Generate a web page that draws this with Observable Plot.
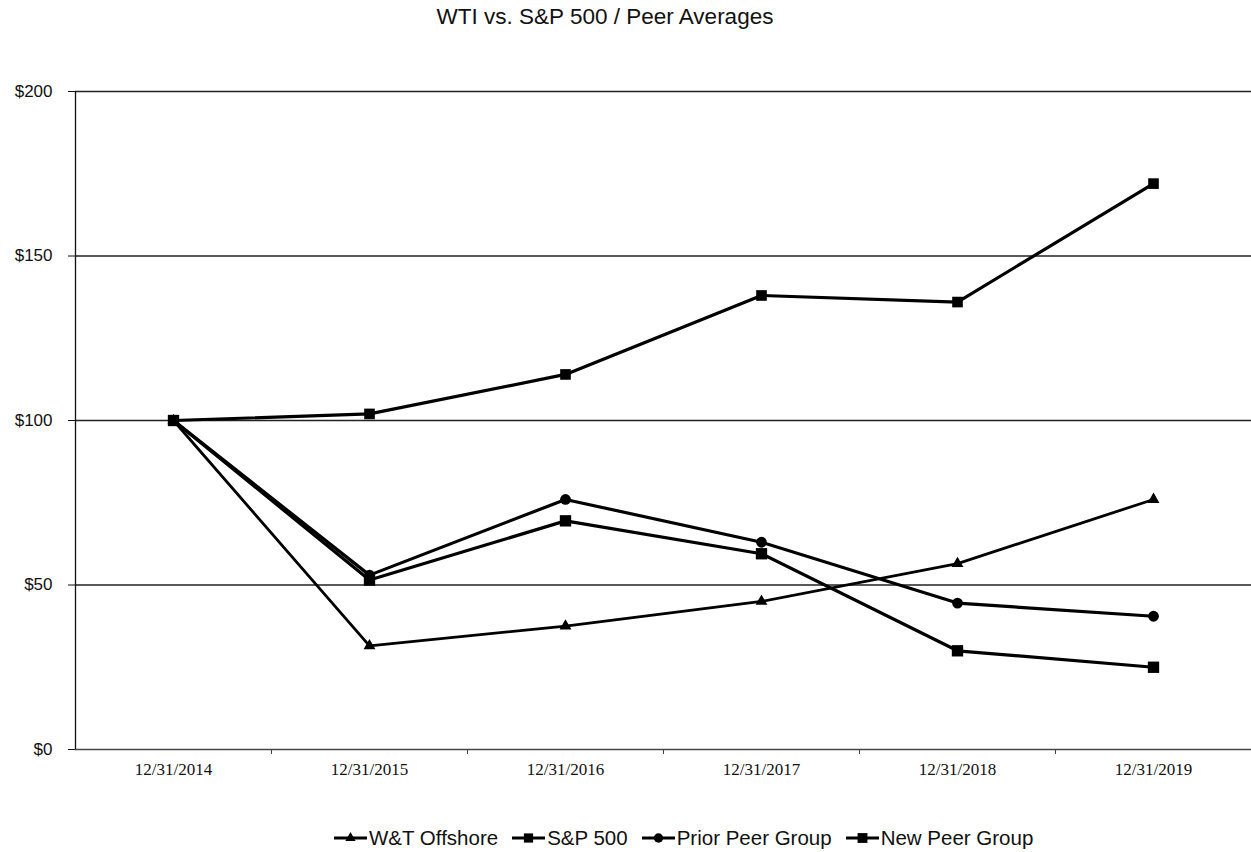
<!DOCTYPE html>
<html>
<head>
<meta charset="utf-8">
<script src="https://cdn.jsdelivr.net/npm/d3@7"></script>
<script src="https://cdn.jsdelivr.net/npm/@observablehq/plot@0.6"></script>
<style>
  html, body { margin: 0; padding: 0; background: #fff; }
  #wrap { position: relative; width: 1251px; height: 852px; overflow: hidden; }
  #title { position: absolute; top: 4px; left: 0; width: 1210px; text-align: center;
           font-family: "Liberation Sans", Arial, sans-serif; font-size: 22.5px; color: #111; }
  #chart { position: absolute; top: 40px; left: 0; }
  #legend { position: absolute; top: 826px; left: 334px; display: flex; align-items: center;
            font-family: "Liberation Sans", Arial, sans-serif; font-size: 20.5px; color: #111; white-space: nowrap; }
  .item { display: flex; align-items: center; margin-right: 14px; }
  .item svg { margin-right: 2px; }
</style>
</head>
<body>
<div id="wrap">
  <div id="title">WTI vs. S&amp;P 500 / Peer Averages</div>
  <div id="chart"></div>
  <div id="legend"></div>
</div>
<script>
const dates = ["12/31/2014", "12/31/2015", "12/31/2016", "12/31/2017", "12/31/2018", "12/31/2019"];
const seriesNames = ["W&T Offshore", "S&P 500", "Prior Peer Group", "New Peer Group"];
const wtOffshore = [100, 31.5, 37.5, 45, 56.5, 76];
const sp500 = [100, 102, 114, 138, 136, 172];
const priorPeer = [100, 53, 76, 63, 44.5, 40.5];
const newPeer = [100, 51.5, 69.5, 59.5, 30, 25];
const yTicks = [0, 50, 100, 150, 200];

const seriesValues = [wtOffshore, sp500, priorPeer, newPeer];
const styles = [
  {symbol: "triangle", r: 4.4, width: 2.8},
  {symbol: "square", r: 6, width: 3.2},
  {symbol: "circle", r: 5.4, width: 3.2},
  {symbol: "square", r: 6.4, width: 3.2}
];

const rowsFor = (k) => seriesValues[k].map((v, i) => ({series: seriesNames[k], pos: i + 0.5, value: v}));
const centers = dates.map((d, i) => i + 0.5);
const bounds = dates.slice(1).map((d, i) => i + 1);

const marks = [
  Plot.gridY(yTicks.slice(1), {stroke: "#222", strokeOpacity: 1, strokeWidth: 1.4}),
  Plot.ruleY([0], {stroke: "#444", strokeWidth: 1.6}),
  Plot.ruleX([0], {stroke: "#111", strokeWidth: 1.3}),
  Plot.axisY(yTicks, {tickFormat: d => "$" + d, tickSize: 7, tickPadding: 16,
    fontSize: 17, fontFamily: "Liberation Sans Narrow, Liberation Sans, Arial, sans-serif", label: null}),
  Plot.axisX(centers, {tickSize: 0, tickPadding: 13, tickFormat: d => dates[Math.floor(d)],
    fontSize: 17, fontFamily: "Liberation Serif, Times New Roman, serif", label: null}),
  Plot.axisX(bounds, {tickSize: 5, tickFormat: () => "", label: null, stroke: "#444"})
];
seriesValues.forEach((vals, k) => {
  const rows = rowsFor(k);
  marks.push(Plot.line(rows, {x: "pos", y: "value", stroke: "#000", strokeWidth: styles[k].width}));
  marks.push(Plot.dot(rows, {x: "pos", y: "value", symbol: styles[k].symbol, r: styles[k].r, fill: "#000", stroke: "none"}));
});

const chart = Plot.plot({
  width: 1251,
  height: 740,
  marginLeft: 75,
  marginRight: 0,
  marginTop: 51,
  marginBottom: 31,
  style: {background: "#fff", color: "#111", overflow: "visible"},
  x: {type: "linear", domain: [0, 6], label: null},
  y: {domain: [0, 200], label: null},
  marks
});
document.getElementById("chart").appendChild(chart);

// legend
const legend = document.getElementById("legend");
seriesNames.forEach((name, k) => {
  const item = document.createElement("div");
  item.className = "item";
  const sym = d3.symbol().type({triangle: d3.symbolTriangle, square: d3.symbolSquare, circle: d3.symbolCircle}[styles[k].symbol])
    .size(Math.PI * styles[k].r * styles[k].r * 0.75);
  item.innerHTML = `<svg width="33" height="16" viewBox="0 0 33 16"><line x1="0" x2="33" y1="8" y2="8" stroke="#000" stroke-width="3.2"/><path transform="translate(16.5,8)" d="${sym()}" fill="#000"/></svg><span>${name.replace("&", "&amp;")}</span>`;
  legend.appendChild(item);
});
</script>
</body>
</html>
